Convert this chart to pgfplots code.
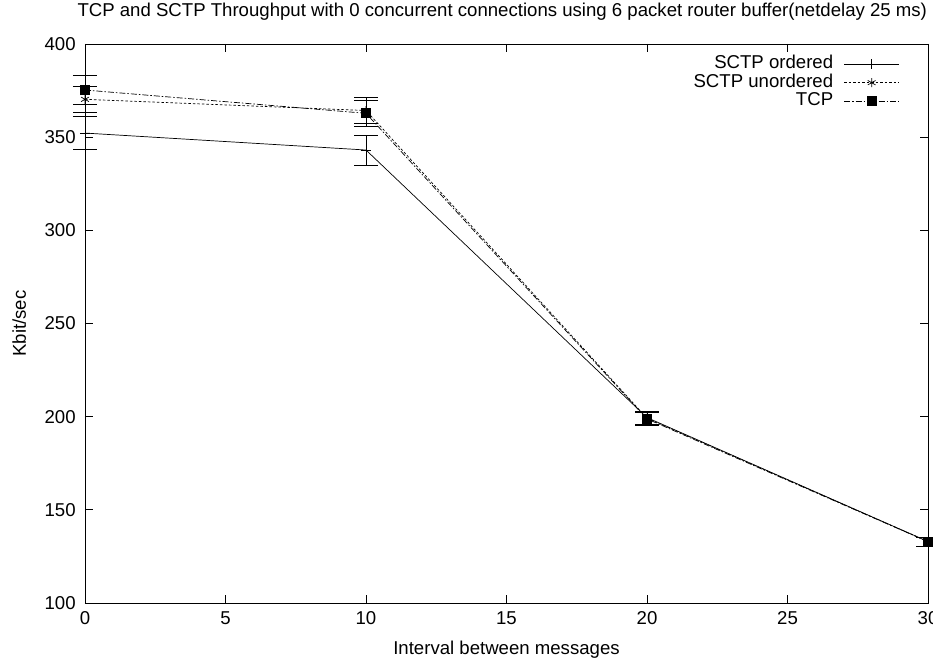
\documentclass[border=0pt]{standalone}
\usepackage{fontspec}
\setmainfont{Liberation Sans}
\usepackage{pgfplots}
\pgfplotsset{compat=1.18}
\begin{document}
\fontsize{18.6bp}{21bp}\selectfont
\begin{tikzpicture}[font=\fontsize{18.6bp}{21bp}\selectfont]
\begin{axis}[
  font=\fontsize{18.6bp}{21bp}\selectfont,
  scale only axis, width=843bp, height=559bp,
  xmin=0, xmax=30, ymin=100, ymax=400,
  clip=false,
  xtick={0,5,...,30}, ytick={100,150,...,400},
  tick align=inside, major tick length=8bp,
  axis line style={line width=0.8bp},
  every tick/.style={black, line width=0.8bp},
  /pgf/number format/assume math mode=true,
  xticklabel style={yshift=-2bp},
  yticklabel style={xshift=-3bp},
  title={TCP and SCTP Throughput with 0 concurrent connections using 6 packet router buffer(netdelay 25 ms)},
  title style={at={(axis description cs:0.495,1.0465)}, anchor=center, inner sep=0pt},
  xlabel={Interval between messages},
  xlabel style={at={(axis description cs:0.5,-0.084)}, anchor=center, inner sep=0pt},
  ylabel={Kbit/sec},
  ylabel style={at={(axis description cs:-0.078,0.5)}, anchor=center, inner sep=0pt},
  legend style={at={(axis description cs:0.970,0.983)}, anchor=north east, draw=none, fill=none,
    nodes={inner sep=0bp, text height=13bp, text depth=4bp}, row sep=1.5bp},
  legend cell align=right,
  legend plot pos=right,
  legend image code/.code={\path[draw=none, fill=none] (0bp,0bp) circle (0.01bp); \draw[mark repeat=2, mark phase=2, #1] plot coordinates {(11bp,0bp) (38.5bp,0bp) (66bp,0bp)};},
  every axis plot/.append style={black, line width=0.7bp},
]
\addplot+[black, solid, mark=+, mark size=5bp, mark options={solid},
  error bars/.cd, y dir=both, y explicit, error mark=|, error mark options={mark size=12bp, line width=0.8bp, solid}]
  table[x=x, y=y, y error=e] {
x y e
0 352.2 8.8
10 343.1 8.0
20 199.5 3.5
30 133.0 2.4
};
\addlegendentry{SCTP ordered}
\addplot+[black, dash pattern=on 2.5bp off 2bp, mark=asterisk, mark size=4.5bp, mark options={solid},
  error bars/.cd, y dir=both, y explicit, error mark=|, error mark options={mark size=12bp, line width=0.8bp, solid}, error bar style={solid}]
  table[x=x, y=y, y error=e] {
x y e
0 370.3 7.2
10 364.3 7.1
20 199.2 3.5
30 133.0 2.4
};
\addlegendentry{SCTP unordered}
\addplot+[black, dash pattern=on 6bp off 2bp on 1.5bp off 2bp, mark=square*, mark size=4.5bp, mark options={solid, fill=black},
  error bars/.cd, y dir=both, y explicit, error mark=|, error mark options={mark size=12bp, line width=0.8bp, solid}, error bar style={solid}]
  table[x=x, y=y, y error=e] {
x y e
0 375.3 7.7
10 362.8 7.1
20 198.8 3.5
30 132.9 2.4
};
\addlegendentry{TCP}
\coordinate (bl) at (rel axis cs:0,0);
\coordinate (tr) at (rel axis cs:1,1);
\end{axis}
\pgfresetboundingbox
\path[use as bounding box] ([xshift=-85bp,yshift=-61bp]bl) rectangle ([xshift=5bp,yshift=44bp]tr);
\end{tikzpicture}
\end{document}
